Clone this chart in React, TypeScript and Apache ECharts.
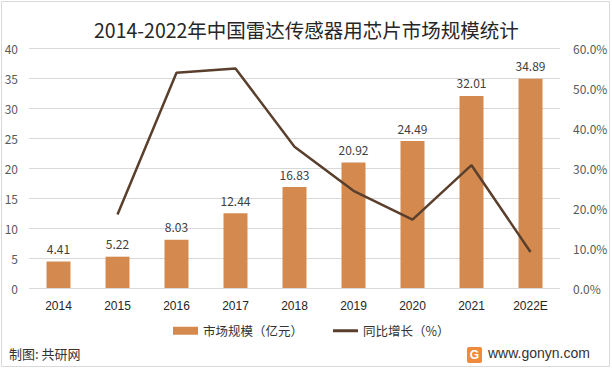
import React, { useEffect, useRef } from "react";
import * as echarts from "echarts";

const categories = ["2014", "2015", "2016", "2017", "2018", "2019", "2020", "2021", "2022E"];
const marketSize = [4.41, 5.22, 8.03, 12.44, 16.83, 20.92, 24.49, 32.01, 34.89];
const growth: (number | null)[] = [null, 18.4, 53.8, 54.9, 35.3, 24.3, 17.1, 30.7, 9.0];
const leftTicks = [0, 40, 5];
const rightTicks = [0, 60, 10];

const FONT = "'Noto Sans CJK SC', 'Noto Sans', sans-serif";

export default function App() {
  const ref = useRef<HTMLDivElement>(null);
  useEffect(() => {
    const chart = echarts.init(ref.current!, null, { renderer: "svg" });
    chart.setOption({
      animation: false,
      backgroundColor: "#ffffff",
      textStyle: { fontFamily: FONT },
      title: {
        text: "2014-2022年中国雷达传感器用芯片市场规模统计",
        left: 89,
        top: 15,
        textStyle: { fontSize: 19.5, fontWeight: "normal", color: "#262626", fontFamily: FONT },
      },
      grid: { left: 29, right: 52, top: 48, bottom: 82 },
      legend: {
        bottom: 28,
        left: 168,
        itemGap: 30,
        itemWidth: 25,
        itemHeight: 8,
        textStyle: { fontSize: 12.5, color: "#333", fontFamily: FONT },
        data: [
          { name: "市场规模（亿元）", icon: "rect" },
          { name: "同比增长（%）", icon: "path://M0 0 H25 V3 H0 Z" },
        ],
      },
      xAxis: {
        type: "category",
        data: categories,
        axisLine: { show: false },
        axisTick: { show: false },
        axisLabel: { color: "#262626", fontSize: 12, margin: 12, fontFamily: "Liberation Sans, sans-serif" },
      },
      yAxis: [
        {
          type: "value",
          min: leftTicks[0],
          max: leftTicks[1],
          interval: leftTicks[2],
          axisLine: { show: false },
          axisTick: { show: false },
          axisLabel: { color: "#595959", fontSize: 12, margin: 11 },
          splitLine: { lineStyle: { color: "#d9d9d9", width: 1 } },
        },
        {
          type: "value",
          min: rightTicks[0],
          max: rightTicks[1],
          interval: rightTicks[2],
          axisLine: { show: false },
          axisTick: { show: false },
          splitLine: { show: false },
          axisLabel: {
            color: "#595959",
            fontSize: 12,
            margin: 13,
            formatter: (v: number) => v.toFixed(1) + "%",
          },
        },
      ],
      series: [
        {
          name: "市场规模（亿元）",
          type: "bar",
          data: marketSize,
          barWidth: 24,
          itemStyle: { color: "#d48a4e" },
          label: {
            show: true,
            position: "top",
            distance: 7,
            color: "#404040",
            fontSize: 12,
            formatter: (p: any) => p.value.toFixed(2),
          },
        },
        {
          name: "同比增长（%）",
          type: "line",
          yAxisIndex: 1,
          data: growth,
          symbol: "none",
          lineStyle: { color: "#5a3f2c", width: 2.5 },
          itemStyle: { color: "#5a3f2c" },
        },
      ],
      graphic: [
        {
          type: "rect",
          shape: { x: 1.5, y: 1.5, width: 608, height: 365 },
          style: { fill: "none", stroke: "#d9d9d9", lineWidth: 1 },
          silent: true,
        },
        {
          type: "text",
          left: 9,
          top: 347,
          style: { text: "制图: 共研网", fontSize: 13, fill: "#333", fontFamily: FONT },
        },
        {
          type: "rect",
          shape: { x: 467, y: 347, width: 15, height: 16, r: 2 },
          style: { fill: "#f08a3c" },
        },
        {
          type: "text",
          x: 474.5,
          y: 355,
          style: { text: "G", fontSize: 12, fontWeight: "bold", fill: "#fff", align: "center", verticalAlign: "middle", fontFamily: "Liberation Sans" },
        },
        {
          type: "text",
          left: 488,
          top: 346,
          style: { text: "www.gonyn.com", fontSize: 14, fill: "#333", fontFamily: "Liberation Sans, sans-serif" },
        },
      ],
    });
    return () => chart.dispose();
  }, []);
  return <div ref={ref} style={{ position: "fixed", left: 0, top: 0, width: 612, height: 370 }} />;
}
